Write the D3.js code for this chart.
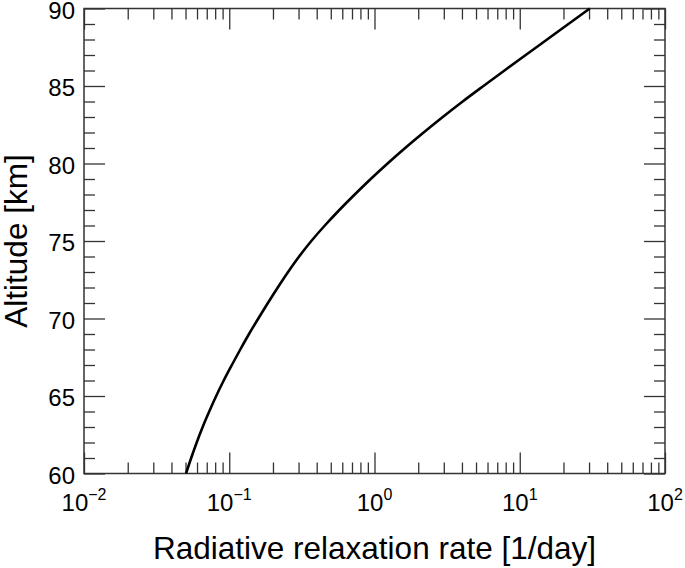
<!DOCTYPE html>
<html>
<head>
<meta charset="utf-8">
<script src="https://cdn.jsdelivr.net/npm/d3@7"></script>
<style>
  body { margin: 0; background: #fff; }
  svg { font-family: "Liberation Sans", Arial, sans-serif; }
</style>
</head>
<body>
<div class="canvas"></div>
<script>
// altitude levels (km) and relaxation rate (1/day)
const altitudes = [60, 61, 62, 63, 64, 65, 66, 67, 68, 69, 70, 71, 72, 73, 74, 75,
  76, 77, 78, 79, 80, 81, 82, 83, 84, 85, 86, 87, 88, 89, 90];
const rates = [0.0504, 0.0547, 0.0597, 0.0656, 0.0728, 0.0813, 0.0916, 0.1042, 0.1191,
  0.1368, 0.1585, 0.1845, 0.2158, 0.2541, 0.3027, 0.3673, 0.455, 0.5728, 0.7311,
  0.9419, 1.23, 1.626, 2.178, 2.951, 4.046, 5.623, 7.852, 10.99, 15.42, 21.63, 30.34];

const xExponents = [-2, -1, 0, 1, 2];
const yTicks = [60, 65, 70, 75, 80, 85, 90];

const dims = { width: 685, height: 568 };
const margin = { left: 84, right: 20, top: 8.5, bottom: 94.5 };
const plotW = dims.width - margin.left - margin.right;
const plotH = dims.height - margin.top - margin.bottom;

const svg = d3
  .select(".canvas")
  .append("svg")
  .attr("width", dims.width)
  .attr("height", dims.height);

const graph = svg.append("g").attr("transform", `translate(${margin.left}, ${margin.top})`);

const x = d3.scaleLog().domain([1e-2, 1e2]).range([0, plotW]);
const y = d3.scaleLinear().domain([60, 90]).range([plotH, 0]);

// tick positions
const xMajor = xExponents.map((e) => Math.pow(10, e));
const xMinor = [];
xExponents.slice(0, -1).forEach((e) => {
  for (let k = 2; k <= 9; k++) xMinor.push(k * Math.pow(10, e));
});
const yMinor = d3.range(60, 91).filter((v) => v % 5 !== 0);

const tickColor = "#333";
const styleAxis = (g) => {
  g.select(".domain").remove();
  g.selectAll("line").attr("stroke", tickColor).attr("stroke-width", 1.3);
  g.selectAll("text").remove();
};

// inward ticks on all four sides
const majLen = 21, minLen = 11;
graph.append("g").attr("transform", `translate(0, ${plotH})`)
  .call(d3.axisBottom(x).tickValues(xMajor).tickSize(-majLen)).call(styleAxis);
graph.append("g").attr("transform", `translate(0, ${plotH})`)
  .call(d3.axisBottom(x).tickValues(xMinor).tickSize(-minLen)).call(styleAxis);
graph.append("g")
  .call(d3.axisTop(x).tickValues(xMajor).tickSize(-majLen)).call(styleAxis);
graph.append("g")
  .call(d3.axisTop(x).tickValues(xMinor).tickSize(-minLen)).call(styleAxis);
graph.append("g")
  .call(d3.axisLeft(y).tickValues(yTicks).tickSize(-majLen)).call(styleAxis);
graph.append("g")
  .call(d3.axisLeft(y).tickValues(yMinor).tickSize(-minLen)).call(styleAxis);
graph.append("g").attr("transform", `translate(${plotW}, 0)`)
  .call(d3.axisRight(y).tickValues(yTicks).tickSize(-majLen)).call(styleAxis);
graph.append("g").attr("transform", `translate(${plotW}, 0)`)
  .call(d3.axisRight(y).tickValues(yMinor).tickSize(-minLen)).call(styleAxis);

// frame
graph.append("rect")
  .attr("width", plotW)
  .attr("height", plotH)
  .attr("fill", "none")
  .attr("stroke", tickColor)
  .attr("stroke-width", 1.5);

// y tick labels
graph.selectAll(".ylab")
  .data(yTicks)
  .enter()
  .append("text")
  .attr("class", "ylab")
  .attr("x", -9)
  .attr("y", (d) => y(d))
  .attr("dy", "0.42em")
  .attr("text-anchor", "end")
  .attr("font-size", 24)
  .text((d) => d);

// x tick labels as 10^n
const xl = graph.selectAll(".xlab")
  .data(xExponents)
  .enter()
  .append("text")
  .attr("class", "xlab")
  .attr("x", (d) => x(Math.pow(10, d)))
  .attr("y", plotH + 37)
  .attr("text-anchor", "middle")
  .attr("font-size", 24);
xl.append("tspan").text("10");
xl.append("tspan")
  .attr("dy", -11)
  .attr("font-size", 16)
  .text((d) => (d < 0 ? "\u2212" + Math.abs(d) : d));

// curve
const line = d3.line()
  .x((d, i) => x(rates[i]))
  .y((d) => y(d))
  .curve(d3.curveMonotoneY);

graph.append("path")
  .datum(altitudes)
  .attr("d", line)
  .attr("fill", "none")
  .attr("stroke", "#000")
  .attr("stroke-width", 2.6);

// axis titles
svg.append("text")
  .attr("x", margin.left + plotW / 2)
  .attr("y", 559)
  .attr("text-anchor", "middle")
  .attr("font-size", 31.5)
  .text("Radiative relaxation rate [1/day]");

svg.append("text")
  .attr("transform", `translate(27, ${margin.top + plotH / 2}) rotate(-90)`)
  .attr("text-anchor", "middle")
  .attr("font-size", 31.5)
  .text("Altitude [km]");
</script>
</body>
</html>
